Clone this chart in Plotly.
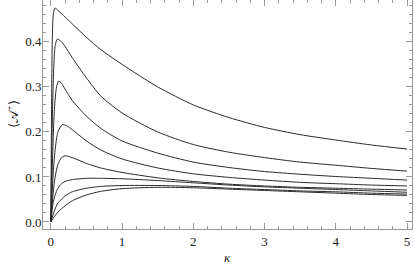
import plotly.graph_objects as go

# curve samples (kappa, <A+>)
x1 = [0, 0.01, 0.02, 0.035, 0.06, 0.1, 0.2, 0.3, 0.5, 0.7, 1, 1.5, 2, 2.5, 3, 3.5, 4, 4.5, 5]
y1 = [0, 0.25, 0.40, 0.462, 0.475, 0.47, 0.455, 0.44, 0.41, 0.383, 0.35, 0.30, 0.26, 0.232, 0.21, 0.194, 0.182, 0.171, 0.162]

x2 = [0, 0.02, 0.04, 0.06, 0.09, 0.15, 0.2, 0.3, 0.5, 0.7, 1, 1.5, 2, 2.5, 3, 3.5, 4, 4.5, 5]
y2 = [0, 0.22, 0.34, 0.39, 0.406, 0.40, 0.39, 0.365, 0.32, 0.28, 0.242, 0.2, 0.172, 0.155, 0.143, 0.133, 0.126, 0.119, 0.113]

x3 = [0, 0.02, 0.05, 0.08, 0.11, 0.15, 0.2, 0.3, 0.5, 0.7, 1, 1.5, 2, 2.5, 3, 3.5, 4, 4.5, 5]
y3 = [0, 0.12, 0.25, 0.30, 0.313, 0.308, 0.295, 0.27, 0.235, 0.208, 0.18, 0.153, 0.133, 0.121, 0.112, 0.106, 0.101, 0.097, 0.093]

x4 = [0, 0.03, 0.06, 0.1, 0.16, 0.22, 0.3, 0.5, 0.7, 1, 1.5, 2, 2.5, 3, 3.5, 4, 4.5, 5]
y4 = [0, 0.1, 0.16, 0.2, 0.216, 0.214, 0.205, 0.18, 0.16, 0.14, 0.12, 0.107, 0.099, 0.093, 0.088, 0.085, 0.082, 0.080]

x5 = [0, 0.03, 0.06, 0.1, 0.15, 0.2, 0.3, 0.5, 0.7, 1, 1.5, 2, 2.5, 3, 3.5, 4, 4.5, 5]
y5 = [0, 0.06, 0.1, 0.128, 0.143, 0.147, 0.143, 0.13, 0.12, 0.11, 0.098, 0.09, 0.084, 0.08, 0.077, 0.075, 0.073, 0.071]

x6 = [0, 0.03, 0.06, 0.1, 0.15, 0.2, 0.3, 0.5, 0.7, 1, 1.5, 2, 2.5, 3, 3.5, 4, 4.5, 5]
y6 = [0, 0.04, 0.06, 0.075, 0.085, 0.09, 0.094, 0.097, 0.097, 0.096, 0.092, 0.087, 0.082, 0.078, 0.075, 0.072, 0.069, 0.066]

x7 = [0, 0.05, 0.1, 0.2, 0.3, 0.5, 0.7, 1, 1.5, 2, 2.5, 3, 3.5, 4, 4.5, 5]
y7 = [0, 0.025, 0.042, 0.058, 0.067, 0.075, 0.079, 0.081, 0.081, 0.079, 0.075, 0.072, 0.069, 0.067, 0.064, 0.062]

x8 = [0, 0.05, 0.1, 0.2, 0.3, 0.5, 0.7, 1, 1.5, 2, 2.5, 3, 3.5, 4, 4.5, 5]
y8 = [0, 0.012, 0.022, 0.036, 0.047, 0.06, 0.068, 0.074, 0.077, 0.076, 0.073, 0.07, 0.067, 0.064, 0.061, 0.059]

curves = [(x1, y1), (x2, y2), (x3, y3), (x4, y4), (x5, y5), (x6, y6), (x7, y7), (x8, y8)]

fig = go.Figure()
for xs, ys in curves:
    fig.add_trace(go.Scatter(x=xs, y=ys, mode='lines',
                             line=dict(color='#2a2a2a', width=1.0, shape='spline', smoothing=0.7),
                             showlegend=False, hoverinfo='skip'))

serif = dict(family='Liberation Serif', size=13, color='#222')
ax_common = dict(showline=True, linecolor='#999', linewidth=1, mirror='allticks',
                 ticks='inside', ticklen=6, tickcolor='#999', tickwidth=1,
                 showgrid=False, zeroline=False, tickfont=serif, automargin=False)

fig.update_xaxes(range=[-0.11, 5.07], tickvals=[0, 1, 2, 3, 4, 5],
                 minor=dict(dtick=0.2, ticks='inside', ticklen=3, tickcolor='#999', tick0=0),
                 **ax_common)
fig.update_yaxes(range=[-0.0156, 0.493], tickvals=[0, 0.1, 0.2, 0.3, 0.4], tickformat='.1f',
                 minor=dict(dtick=0.02, ticks='inside', ticklen=3, tickcolor='#999', tick0=0),
                 ticklabelstandoff=-2, **ax_common)

# axis titles placed by hand so they sit where the reference has them
fig.add_annotation(text='<i>κ</i>', xref='paper', yref='paper', x=0.5, y=-0.125,
                   showarrow=False, font=serif, xanchor='center', yanchor='middle')
fig.add_annotation(text='⟨𝒜<sup>+</sup>⟩', xref='paper', yref='paper', x=-0.084, y=0.5,
                   showarrow=False, font=serif, textangle=-90, xanchor='center', yanchor='middle')

fig.update_layout(width=415, height=268, margin=dict(l=43, r=3, t=0, b=39),
                  plot_bgcolor='white', paper_bgcolor='white')

# the page's default body margin would push the plot off the window
fig.write_html("out.html", config={'displayModeBar': False},
               post_script="document.body.style.margin='0';")
